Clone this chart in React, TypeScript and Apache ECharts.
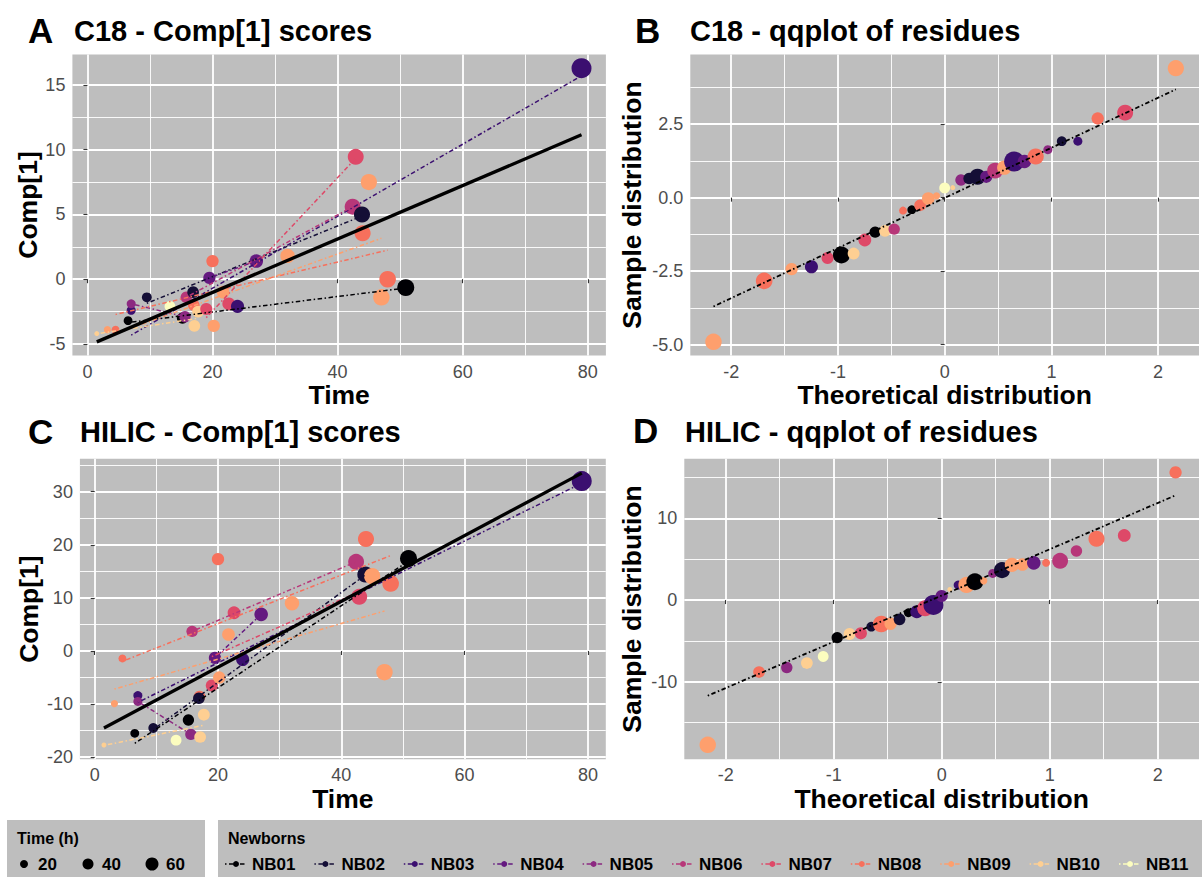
import React, { useEffect, useRef } from "react";
import * as echarts from "echarts";

// ---------------- data ----------------
const NEWBORNS = ["NB01", "NB02", "NB03", "NB04", "NB05", "NB06", "NB07", "NB08", "NB09", "NB10", "NB11"];
const NB_COLORS = ["#000004", "#140E36", "#3B0F70", "#641A80", "#8C2981", "#B73779", "#DE4968", "#F7705C", "#FE9F6D", "#FECF92", "#FCFDBF"];

// samples shown in panels A and C (newborn number, time in h, scores)
const SAMPLE_NB = [10, 9, 8, 1, 3, 5, 2, 11, 1, 5, 6, 8, 2, 10, 10, 7, 4, 8, 9, 9, 7, 3, 4, 9, 6, 7, 2, 8, 9, 9, 8, 1, 3];
const SAMPLE_TIME = [1.5, 3.2, 4.5, 6.5, 7.0, 7.0, 9.5, 13.2, 15.2, 15.6, 15.8, 17.0, 16.9, 17.1, 17.7, 19.0, 19.5, 20.0, 20.2, 21.7, 22.6, 24.0, 27.0, 32.0, 42.4, 42.9, 43.9, 44.0, 45.0, 47.0, 48.0, 50.9, 79.0];
const C18_SCORES = [-4.2, -3.9, -3.9, -3.2, -2.4, -1.9, -1.4, -2.1, -3.0, -2.9, -1.4, -2.0, -1.0, -3.6, -2.5, -2.3, 0.1, 1.4, -3.6, -1.0, -1.9, -2.1, 1.4, 1.8, 5.6, 9.45, 5.0, 3.55, 7.5, -1.4, 0.0, -0.65, 16.3];
const HILIC_SCORES = [-17.7, -9.9, -1.4, -15.5, -8.4, -9.5, -14.5, -16.8, -13.0, -15.7, 3.7, -8.6, -8.9, -16.2, -12.0, -6.5, -1.3, 17.3, -5.0, 3.1, 7.2, -1.6, 6.9, 9.0, 16.8, 10.2, 14.4, 21.1, 14.1, -4.0, 12.7, 17.4, 32.0];

// overall trend lines (end points)
const TREND_TIME = [1.5, 79];
const C18_TREND = [-4.84, 11.15];
const HILIC_TREND = [-14.5, 33.5];

// qq plots
const QQ_THEORETICAL = [-2.166, -1.691, -1.434, -1.248, -1.097, -0.967, -0.853, -0.748, -0.651, -0.559, -0.473, -0.39, -0.308, -0.23, -0.153, -0.076, 0, 0.076, 0.153, 0.23, 0.308, 0.39, 0.473, 0.559, 0.651, 0.748, 0.853, 0.967, 1.097, 1.248, 1.434, 1.691, 2.166];
const C18_RESID = [-4.9, -2.83, -2.43, -2.35, -2.05, -1.95, -1.9, -1.44, -1.17, -1.13, -1.07, -0.44, -0.41, -0.26, -0.03, 0.06, 0.33, 0.34, 0.6, 0.65, 0.71, 0.71, 0.92, 1.02, 1.23, 1.23, 1.4, 1.63, 1.92, 1.92, 2.69, 2.89, 4.4];
const C18_QQ_NB = [9, 8, 9, 3, 7, 1, 10, 7, 1, 10, 6, 8, 1, 8, 9, 9, 11, 10, 5, 2, 2, 4, 6, 9, 3, 4, 8, 5, 2, 3, 8, 7, 9];
const C18_QQ_TIME = [47.0, 48.0, 20.2, 24.0, 19.0, 50.9, 17.7, 22.6, 15.2, 17.1, 15.8, 4.5, 6.5, 17.0, 21.7, 3.2, 13.2, 1.5, 15.6, 16.9, 43.9, 19.5, 42.4, 32.0, 79.0, 27.0, 44.0, 7.0, 9.5, 7.0, 20.0, 42.9, 45.0];
const HILIC_RESID = [-17.7, -8.8, -8.25, -7.7, -6.9, -4.6, -4.15, -4.07, -3.25, -2.93, -2.9, -2.36, -1.55, -1.42, -1.0, -0.6, 0.49, 1.3, 1.83, 1.85, 2.24, 2.36, 3.25, 3.66, 4.3, 4.35, 4.55, 4.56, 4.8, 6.0, 7.5, 7.9, 15.6];
const HILIC_QQ_NB = [9, 8, 5, 10, 11, 1, 10, 7, 2, 8, 9, 2, 1, 3, 7, 3, 4, 10, 3, 9, 1, 9, 5, 2, 9, 9, 4, 8, 6, 6, 8, 7, 8];
const HILIC_QQ_TIME = [47.0, 17.0, 15.6, 17.1, 13.2, 15.2, 17.7, 19.0, 9.5, 48.0, 20.2, 16.9, 6.5, 24.0, 42.9, 79.0, 19.5, 1.5, 7.0, 45.0, 50.9, 3.2, 7.0, 43.9, 32.0, 21.7, 27.0, 4.5, 42.4, 15.8, 44.0, 22.6, 20.0];
const QQ_LINE_X = [-2.166, 2.166];
const C18_QQ_LINE = [-3.7, 3.68];
const HILIC_QQ_LINE = [-11.7, 12.8];

// tick labels
const TIME_BREAKS = [0, 20, 40, 60, 80];
const C18_SCORE_BREAKS = [-5, 0, 5, 10, 15];
const HILIC_SCORE_BREAKS = [-20, -10, 0, 10, 20, 30];
const QQ_BREAKS = [-2, -1, 0, 1, 2];
const C18_RESID_BREAKS = [-5, -2.5, 0, 2.5];
const HILIC_RESID_BREAKS = [-10, 0, 10];
const SIZE_BREAKS = [20, 40, 60];

// ---------------- styling helpers ----------------
const FONT = '"Liberation Sans", Arial, Helvetica, sans-serif';
const PANEL_BG = "#BEBEBE";
const DOTDASH = [1.5, 2.5, 4.5, 2.5];

const tMin = Math.min(...SAMPLE_TIME);
const tMax = Math.max(...SAMPLE_TIME);
const sizeOf = (t: number) => 5 + 15 * Math.sqrt(Math.max(0, (t - tMin) / (tMax - tMin)));

function valueAxis(gridIndex: number, min: number, max: number, step: number, breaks: number[], fmt: (v: number) => string, name: string, nameGap: number) {
  return {
    type: "value",
    gridIndex,
    min,
    max,
    minInterval: step,
    maxInterval: step,
    name,
    nameLocation: "middle",
    nameGap,
    nameTextStyle: { fontSize: 26.5, fontWeight: "bold", color: "#000000", fontFamily: FONT },
    axisLine: { show: false },
    axisTick: { show: true, length: 4, lineStyle: { color: "#333333", width: 1.1 }, customValues: breaks },
    axisLabel: {
      show: true,
      color: "#4D4D4D",
      fontSize: 18,
      fontFamily: FONT,
      margin: 7,
      showMinLabel: true,
      showMaxLabel: true,
      formatter: (v: number) => (breaks.some((b) => Math.abs(b - v) < 1e-6) ? fmt(v) : ""),
    },
    splitLine: { show: true, lineStyle: { color: "#FFFFFF", width: 1.8 } },
    minorTick: { show: false, splitNumber: 2 },
    minorSplitLine: { show: true, lineStyle: { color: "#FFFFFF", width: 0.9 } },
  };
}

function scatter(g: number, xs: number[], ys: number[], nbs: number[], times: number[]) {
  return {
    type: "scatter",
    xAxisIndex: g,
    yAxisIndex: g,
    z: 2,
    silent: true,
    symbolSize: (v: number[]) => sizeOf(v[2]),
    data: xs.map((x, i) => ({ value: [x, ys[i], times[i]], itemStyle: { color: NB_COLORS[nbs[i] - 1], opacity: 1 } })),
  };
}

function fitLines(g: number, ys: number[]) {
  const out: any[] = [];
  NEWBORNS.forEach((nb, k) => {
    const idx = SAMPLE_NB.map((n, i) => (n === k + 1 ? i : -1)).filter((i) => i >= 0);
    if (idx.length < 2) return;
    const xs = idx.map((i) => SAMPLE_TIME[i]);
    const yy = idx.map((i) => ys[i]);
    const mx = xs.reduce((a, b) => a + b, 0) / xs.length;
    const my = yy.reduce((a, b) => a + b, 0) / yy.length;
    let sxy = 0;
    let sxx = 0;
    xs.forEach((x, j) => {
      sxy += (x - mx) * (yy[j] - my);
      sxx += (x - mx) * (x - mx);
    });
    const b = sxy / sxx;
    const a = my - b * mx;
    const x0 = Math.min(...xs);
    const x1 = Math.max(...xs);
    out.push({
      type: "line",
      name: nb,
      xAxisIndex: g,
      yAxisIndex: g,
      z: 3,
      silent: true,
      symbol: "none",
      data: [[x0, a + b * x0], [x1, a + b * x1]],
      lineStyle: { color: NB_COLORS[k], width: 1.5, type: DOTDASH },
    });
  });
  return out;
}

function straight(g: number, xs: number[], ys: number[], width: number, dashed: boolean) {
  return {
    type: "line",
    xAxisIndex: g,
    yAxisIndex: g,
    z: 4,
    silent: true,
    symbol: "none",
    data: xs.map((x, i) => [x, ys[i]]),
    lineStyle: { color: "#000000", width, type: dashed ? DOTDASH : "solid" },
  };
}

function txt(text: string, x: number, y: number, size: number, bold = true, color = "#000000") {
  return {
    type: "text",
    x,
    y,
    silent: true,
    style: {
      text,
      fill: color,
      font: `${bold ? "bold " : ""}${size}px ${FONT}`,
      align: "left",
      verticalAlign: "middle",
      textAlign: "left",
      textVerticalAlign: "middle",
    },
  };
}

function buildGraphics() {
  const els: any[] = [];
  // tags and titles
  els.push(txt("A", 28, 30, 35));
  els.push(txt("C18 - Comp[1] scores", 74, 31, 29));
  els.push(txt("B", 635, 30, 35));
  els.push(txt("C18 - qqplot of residues", 690, 31, 29));
  els.push(txt("C", 28, 431, 35));
  els.push(txt("HILIC - Comp[1] scores", 80, 432, 29));
  els.push(txt("D", 633, 430, 35));
  els.push(txt("HILIC - qqplot of residues", 685, 432, 29));

  // legend: Time (h)
  els.push({ type: "rect", silent: true, shape: { x: 7, y: 820, width: 198, height: 62 }, style: { fill: PANEL_BG } });
  els.push(txt("Time (h)", 17, 838, 16));
  const legDia = [8, 11, 13];
  SIZE_BREAKS.forEach((t, k) => {
    const cx = 24 + 64 * k;
    els.push({ type: "circle", silent: true, shape: { cx, cy: 864, r: legDia[k] / 2 }, style: { fill: "#000000" } });
    els.push(txt(String(t), cx + 14, 864, 17));
  });

  // legend: Newborns
  els.push({ type: "rect", silent: true, shape: { x: 218, y: 820, width: 1000, height: 62 }, style: { fill: PANEL_BG } });
  els.push(txt("Newborns", 228, 838, 16));
  NEWBORNS.forEach((nb, k) => {
    const cx = 236 + 89.4 * k;
    els.push({ type: "line", silent: true, shape: { x1: cx - 11, y1: 864, x2: cx + 11, y2: 864 }, style: { stroke: NB_COLORS[k], lineWidth: 1.3, lineDash: DOTDASH } });
    els.push({ type: "circle", silent: true, shape: { cx, cy: 864, r: 3 }, style: { fill: NB_COLORS[k] } });
    els.push(txt(nb, cx + 16, 864, 17));
  });
  return els;
}

export default function App() {
  const ref = useRef<HTMLDivElement>(null);
  useEffect(() => {
    if (!ref.current) return;
    const chart = echarts.init(ref.current, undefined, { renderer: "svg" });
    const gridBase = { show: true, backgroundColor: PANEL_BG, borderWidth: 0, containLabel: false };
    const intFmt = (v: number) => String(Math.round(v));
    const oneFmt = (v: number) => v.toFixed(1);

    const option: any = {
      animation: false,
      backgroundColor: "#FFFFFF",
      textStyle: { fontFamily: FONT },
      grid: [
        { ...gridBase, left: 72.4, top: 54.4, width: 533.5, height: 301.2 },
        { ...gridBase, left: 690.3, top: 54.4, width: 519.5, height: 301.2 },
        { ...gridBase, left: 79.9, top: 458.8, width: 525.9, height: 300.5 },
        { ...gridBase, left: 684.3, top: 458.8, width: 525.5, height: 300.5 },
      ],
      xAxis: [
        valueAxis(0, -2.4, 82.9, 20, TIME_BREAKS, intFmt, "Time", 24),
        valueAxis(1, -2.383, 2.383, 1, QQ_BREAKS, intFmt, "Theoretical distribution", 24),
        valueAxis(2, -2.4, 82.9, 20, TIME_BREAKS, intFmt, "Time", 24),
        valueAxis(3, -2.383, 2.383, 1, QQ_BREAKS, intFmt, "Theoretical distribution", 24),
      ],
      yAxis: [
        valueAxis(0, -5.9, 17.36, 5, C18_SCORE_BREAKS, intFmt, "Comp[1]", 29),
        valueAxis(1, -5.37, 4.87, 2.5, C18_RESID_BREAKS, oneFmt, "Sample distribution", 45),
        valueAxis(2, -20.4, 36.2, 10, HILIC_SCORE_BREAKS, intFmt, "Comp[1]", 37),
        valueAxis(3, -19.47, 17.27, 10, HILIC_RESID_BREAKS, intFmt, "Sample distribution", 39),
      ],
      series: [
        scatter(0, SAMPLE_TIME, C18_SCORES, SAMPLE_NB, SAMPLE_TIME),
        ...fitLines(0, C18_SCORES),
        straight(0, TREND_TIME, C18_TREND, 3.3, false),
        scatter(1, QQ_THEORETICAL, C18_RESID, C18_QQ_NB, C18_QQ_TIME),
        straight(1, QQ_LINE_X, C18_QQ_LINE, 1.8, true),
        scatter(2, SAMPLE_TIME, HILIC_SCORES, SAMPLE_NB, SAMPLE_TIME),
        ...fitLines(2, HILIC_SCORES),
        straight(2, TREND_TIME, HILIC_TREND, 3.3, false),
        scatter(3, QQ_THEORETICAL, HILIC_RESID, HILIC_QQ_NB, HILIC_QQ_TIME),
        straight(3, QQ_LINE_X, HILIC_QQ_LINE, 1.8, true),
      ],
      graphic: { elements: buildGraphics() },
    };
    chart.setOption(option);
    return () => chart.dispose();
  }, []);
  return <div ref={ref} style={{ position: "absolute", left: 0, top: 0, width: 1202, height: 877 }} />;
}
